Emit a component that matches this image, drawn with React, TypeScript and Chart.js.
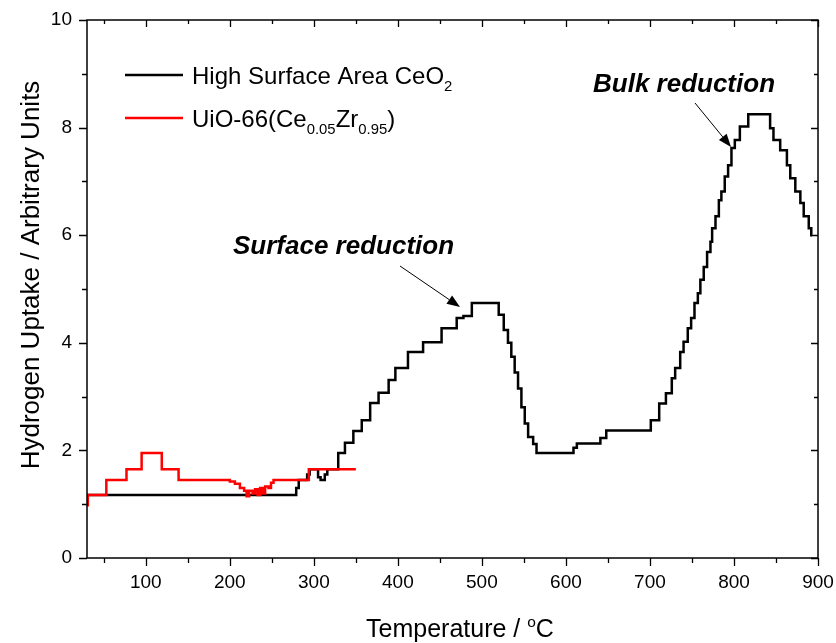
import React, { useEffect, useRef } from 'react';
import { Chart, registerables } from 'chart.js';

Chart.register(...registerables);

// ---------- data ----------
const blackTemps = [
  30, 276, 279, 282, 292, 295, 305, 308, 313, 316, 329, 337, 347, 357, 367, 377, 389, 397,
  412, 430, 452, 470, 478, 488, 520, 526, 531, 535, 539, 543, 547, 551, 555, 561, 565,
  609, 613, 641, 648, 701, 711, 719, 726, 730, 736, 740, 745, 749, 753, 757, 760, 764,
  768, 772, 774, 778, 782, 785, 789, 793, 797, 801, 807, 817, 843, 847, 855, 863, 867,
  873, 879, 883, 889, 892, 893,
];
const blackValues = [
  1.17, 1.17, 1.3, 1.45, 1.55, 1.65, 1.5, 1.45, 1.55, 1.65, 1.95, 2.14, 2.36, 2.56, 2.88, 3.07, 3.31, 3.53,
  3.83, 4.01, 4.27, 4.46, 4.5, 4.74, 4.52, 4.24, 4.0, 3.74, 3.45, 3.15, 2.8, 2.5, 2.25, 2.12, 1.95,
  2.05, 2.13, 2.23, 2.37, 2.56, 2.87, 3.06, 3.34, 3.53, 3.83, 4.02, 4.27, 4.46, 4.74, 4.92, 5.17, 5.41,
  5.69, 5.88, 6.13, 6.35, 6.65, 6.81, 7.09, 7.3, 7.62, 7.77, 8.02, 8.25, 7.99, 7.77, 7.58, 7.3, 7.06,
  6.81, 6.6, 6.35, 6.13, 6.0, 6.0,
];
const redTemps = [
  30, 31, 53, 77, 95, 119, 139, 200, 206, 212, 217, 220, 223, 227, 230, 233, 236, 239, 242,
  246, 249, 252, 294, 350,
];
const redValues = [
  0.98, 1.17, 1.45, 1.65, 1.95, 1.65, 1.45, 1.42, 1.38, 1.3, 1.25, 1.15, 1.25, 1.2, 1.28, 1.17, 1.3, 1.2, 1.33,
  1.3, 1.4, 1.45, 1.65, 1.65,
];
const xTickValues = [100, 200, 300, 400, 500, 600, 700, 800, 900];
const yTickValues = [0, 2, 4, 6, 8, 10];
const xMin = 30;
const xMax = 900;
const yMin = 0;
const yMax = 10;

const FONT = '"Liberation Sans", Arial, Helvetica, sans-serif';

type Part = { t: string; sub?: boolean; sup?: boolean };

function richWidth(ctx: CanvasRenderingContext2D, parts: Part[], size: number, style = '') {
  let w = 0;
  for (const p of parts) {
    const s = p.sub || p.sup ? size * 0.62 : size;
    ctx.font = `${style} ${s}px ${FONT}`;
    w += ctx.measureText(p.t).width;
  }
  return w;
}

function drawRich(
  ctx: CanvasRenderingContext2D,
  parts: Part[],
  x: number,
  baseline: number,
  size: number,
  style = ''
) {
  let cx = x;
  ctx.textBaseline = 'alphabetic';
  ctx.textAlign = 'left';
  for (const p of parts) {
    const s = p.sub || p.sup ? size * 0.62 : size;
    ctx.font = `${style} ${s}px ${FONT}`;
    let by = baseline;
    if (p.sub) by = baseline + size * 0.3;
    if (p.sup) by = baseline - size * 0.42;
    ctx.fillText(p.t, cx, by);
    cx += ctx.measureText(p.t).width;
  }
}

function arrow(ctx: CanvasRenderingContext2D, x1: number, y1: number, x2: number, y2: number) {
  const ang = Math.atan2(y2 - y1, x2 - x1);
  const hl = 13;
  const hw = 5;
  ctx.strokeStyle = '#000';
  ctx.fillStyle = '#000';
  ctx.lineWidth = 1;
  ctx.beginPath();
  ctx.moveTo(x1, y1);
  ctx.lineTo(x2 - hl * Math.cos(ang), y2 - hl * Math.sin(ang));
  ctx.stroke();
  ctx.beginPath();
  ctx.moveTo(x2, y2);
  ctx.lineTo(
    x2 - hl * Math.cos(ang) + hw * Math.sin(ang),
    y2 - hl * Math.sin(ang) - hw * Math.cos(ang)
  );
  ctx.lineTo(
    x2 - hl * Math.cos(ang) - hw * Math.sin(ang),
    y2 - hl * Math.sin(ang) + hw * Math.cos(ang)
  );
  ctx.closePath();
  ctx.fill();
}

const decorPlugin = {
  id: 'decor',
  afterDraw(chart: any) {
    const ctx: CanvasRenderingContext2D = chart.ctx;
    const { left, right, top, bottom } = chart.chartArea;
    const xs = chart.scales.x;
    const ys = chart.scales.y;
    ctx.save();
    ctx.strokeStyle = '#000';
    ctx.lineWidth = 1.5;
    ctx.strokeRect(left, top, right - left, bottom - top);

    ctx.lineWidth = 1.3;
    ctx.beginPath();
    for (let v = 50; v <= xMax; v += 50) {
      const px = Math.round(xs.getPixelForValue(v)) + 0.5;
      const major = v % 100 === 0;
      ctx.moveTo(px, bottom);
      ctx.lineTo(px, bottom + (major ? 8 : 5));
      ctx.moveTo(px, top);
      ctx.lineTo(px, top + (major ? 7 : 4));
    }
    for (let v = yMin; v <= yMax; v += 1) {
      const py = Math.round(ys.getPixelForValue(v)) + 0.5;
      const major = v % 2 === 0;
      ctx.moveTo(left, py);
      ctx.lineTo(left - (major ? 8 : 5), py);
      ctx.moveTo(right, py);
      ctx.lineTo(right - (major ? 7 : 4), py);
    }
    ctx.stroke();

    ctx.fillStyle = '#000';
    // axis titles
    const xt: Part[] = [{ t: 'Temperature / ' }, { t: 'o', sup: true }, { t: 'C' }];
    const xw = richWidth(ctx, xt, 25);
    drawRich(ctx, xt, 460 - xw / 2, 637, 25);

    const yt: Part[] = [{ t: 'Hydrogen Uptake / Arbitrary Units' }];
    const yw = richWidth(ctx, yt, 26);
    ctx.save();
    ctx.translate(39, 275);
    ctx.rotate(-Math.PI / 2);
    drawRich(ctx, yt, -yw / 2, 0, 26);
    ctx.restore();

    // legend
    ctx.lineWidth = 2.5;
    ctx.strokeStyle = '#000';
    ctx.beginPath();
    ctx.moveTo(125, 75);
    ctx.lineTo(183, 75);
    ctx.stroke();
    ctx.strokeStyle = '#ff0000';
    ctx.beginPath();
    ctx.moveTo(125, 118);
    ctx.lineTo(183, 118);
    ctx.stroke();
    ctx.fillStyle = '#000';
    drawRich(ctx, [{ t: 'High Surface Area CeO' }, { t: '2', sub: true }], 192, 84, 24);
    drawRich(
      ctx,
      [
        { t: 'UiO-66(Ce' },
        { t: '0.05', sub: true },
        { t: 'Zr' },
        { t: '0.95', sub: true },
        { t: ')' },
      ],
      192,
      127,
      24
    );

    // annotations
    drawRich(ctx, [{ t: 'Surface reduction' }], 233, 254, 26, 'italic bold');
    drawRich(ctx, [{ t: 'Bulk reduction' }], 593, 92, 26, 'italic bold');
    arrow(ctx, 400, 266, 460, 307);
    arrow(ctx, 695, 103, 731, 147);
    ctx.restore();
  },
};

export default function App() {
  const ref = useRef<HTMLCanvasElement>(null);
  useEffect(() => {
    if (!ref.current) return;
    const blackPts = blackTemps.map((t, i) => ({ x: t, y: blackValues[i] }));
    const redPts = redTemps.map((t, i) => ({ x: t, y: redValues[i] }));
    const chart = new Chart(ref.current, {
      type: 'line',
      data: {
        datasets: [
          {
            label: 'UiO-66(Ce0.05Zr0.95)',
            data: redPts,
            borderColor: '#ff0000',
            borderWidth: 2.5,
            pointRadius: 0,
            stepped: true,
            order: 0,
          },
          {
            label: 'High Surface Area CeO2',
            data: blackPts,
            borderColor: '#000000',
            borderWidth: 2.5,
            pointRadius: 0,
            stepped: true,
            order: 1,
          },
        ],
      },
      options: {
        responsive: false,
        animation: false,
        events: [],
        layout: { padding: { left: 0, top: 20, right: 18, bottom: 0 } },
        plugins: {
          legend: { display: false },
          tooltip: { enabled: false },
          title: { display: false },
        },
        scales: {
          x: {
            type: 'linear',
            min: xMin,
            max: xMax,
            grid: { display: false, drawTicks: false },
            border: { display: false },
            afterBuildTicks: (s: any) => {
              s.ticks = xTickValues.map((v) => ({ value: v }));
            },
            afterFit: (s: any) => {
              s.height = 85;
              s.paddingLeft = 0;
              s.paddingRight = 0;
              s.paddingTop = 0;
              s.paddingBottom = 0;
            },
            ticks: {
              padding: 13,
              color: '#000',
              maxRotation: 0,
              autoSkip: false,
              font: { family: FONT, size: 19 },
              callback: (v: any) => String(v),
            },
          },
          y: {
            type: 'linear',
            min: yMin,
            max: yMax,
            grid: { display: false, drawTicks: false },
            border: { display: false },
            afterBuildTicks: (s: any) => {
              s.ticks = yTickValues.map((v) => ({ value: v }));
            },
            afterFit: (s: any) => {
              s.width = 87;
              s.paddingLeft = 0;
              s.paddingRight = 0;
              s.paddingTop = 0;
              s.paddingBottom = 0;
            },
            ticks: {
              padding: 15,
              color: '#000',
              autoSkip: false,
              font: { family: FONT, size: 19 },
              callback: (v: any) => String(v),
            },
          },
        },
      },
      plugins: [decorPlugin],
    });
    return () => chart.destroy();
  }, []);
  return (
    <div style={{ position: 'fixed', left: 0, top: 0, width: 836, height: 643, background: '#fff' }}>
      <canvas ref={ref} width={836} height={643} style={{ width: 836, height: 643 }} />
    </div>
  );
}
